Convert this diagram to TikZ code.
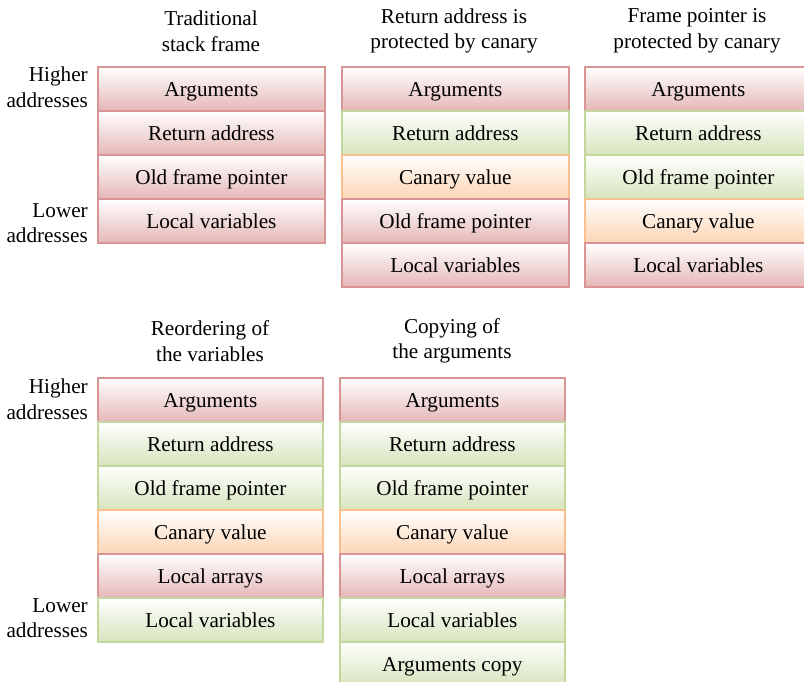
\documentclass[tikz,border=0pt]{standalone}
\usepackage{fontspec}
\setmainfont{Liberation Serif}
\definecolor{redB}{RGB}{217,149,148}
\definecolor{redF}{RGB}{229,183,183}
\definecolor{grnB}{RGB}{195,214,155}
\definecolor{grnF}{RGB}{214,228,188}
\definecolor{orgB}{RGB}{250,192,144}
\definecolor{orgF}{RGB}{252,213,181}
\begin{document}
\begin{tikzpicture}[x=1pt,y=-1pt,
  txt/.style={font=\fontsize{21.2}{25.5}\selectfont, inner sep=0pt},
  cell/.style={txt, draw, line width=1.8pt, minimum height=44pt, anchor=north west,
    text height=17pt, text depth=1pt},
  rc/.style={cell, draw=redB, top color=white, bottom color=redF},
  gc/.style={cell, draw=grnB, top color=white, bottom color=grnF},
  oc/.style={cell, draw=orgB, top color=white, bottom color=orgF},
  wa/.style={minimum width=227pt},
  wb/.style={minimum width=225pt},
  title/.style={txt, align=center},
  side/.style={txt, align=right, anchor=east}]
\useasboundingbox (0,0) rectangle (804,681);

% titles
\node[title] (t1) at (211,31) {Traditional\\stack frame};
\node[title] (t2) at (454,31) {Return address is\\protected by canary};
\node[title] (t3) at (697,31) {Frame pointer is\\protected by canary};
\node[title] (t4) at (210,341) {Reordering of\\the variables};
\node[title] (t5) at (452,341) {Copying of\\the arguments};

% side labels
\node[side] (h1) at (88,87) {Higher\\addresses};
\node[side] (l1) at (88,223) {Lower\\addresses};
\node[side] (h2) at (88,399) {Higher\\addresses};
\node[side] (l2) at (88,618) {Lower\\addresses};

% column 1
\node[rc,wa] (a1) at (97,66) {Arguments};
\node[rc,wa] (a2) at (97,110) {Return address};
\node[rc,wa] (a3) at (97,154) {Old frame pointer};
\node[rc,wa] (a4) at (97,198) {Local variables};

% column 2
\node[rc,wa] (b1) at (341,66) {Arguments};
\node[gc,wa] (b2) at (341,110) {Return address};
\node[oc,wa] (b3) at (341,154) {Canary value};
\node[rc,wa] (b4) at (341,198) {Old frame pointer};
\node[rc,wa] (b5) at (341,242) {Local variables};

% column 3
\node[rc,wa] (c1) at (584,66) {Arguments};
\node[gc,wa] (c2) at (584,110) {Return address};
\node[gc,wa] (c3) at (584,154) {Old frame pointer};
\node[oc,wa] (c4) at (584,198) {Canary value};
\node[rc,wa] (c5) at (584,242) {Local variables};

% column 4
\node[rc,wb] (d1) at (97,377) {Arguments};
\node[gc,wb] (d2) at (97,421) {Return address};
\node[gc,wb] (d3) at (97,465) {Old frame pointer};
\node[oc,wb] (d4) at (97,509) {Canary value};
\node[rc,wb] (d5) at (97,553) {Local arrays};
\node[gc,wb] (d6) at (97,597) {Local variables};

% column 5
\node[rc,wb] (e1) at (339,377) {Arguments};
\node[gc,wb] (e2) at (339,421) {Return address};
\node[gc,wb] (e3) at (339,465) {Old frame pointer};
\node[oc,wb] (e4) at (339,509) {Canary value};
\node[rc,wb] (e5) at (339,553) {Local arrays};
\node[gc,wb] (e6) at (339,597) {Local variables};
\node[gc,wb] (e7) at (339,641) {Arguments copy};
\end{tikzpicture}
\end{document}
